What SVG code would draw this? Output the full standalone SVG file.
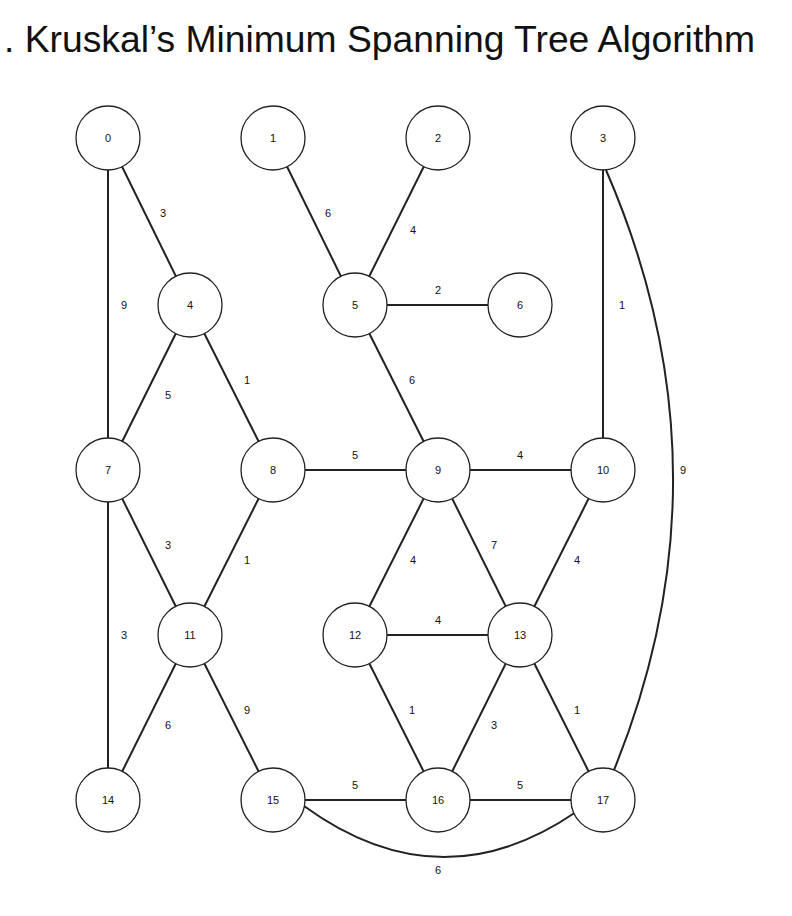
<svg xmlns="http://www.w3.org/2000/svg" width="792" height="916" viewBox="0 0 792 916">
<style>
.n circle{fill:#fff;stroke:#222;stroke-width:1.3}
.n text{font-family:"Liberation Sans",Arial,sans-serif;font-size:11px;fill:#111;text-anchor:middle;dominant-baseline:central}
.e line,.e path{stroke:#222;stroke-width:2;fill:none}
.l{font-family:"Liberation Sans",Arial,sans-serif;font-size:11px;fill:#111;text-anchor:middle;dominant-baseline:central}
</style>
<rect width="792" height="916" fill="#fff"/>
<text x="4" y="52" font-family="Liberation Sans,Arial,sans-serif" font-size="36" textLength="751" lengthAdjust="spacingAndGlyphs" fill="#111">. Kruskal’s Minimum Spanning Tree Algorithm</text>
<g class="e" id="connectors">
<line x1="108" y1="138" x2="190" y2="305"/>
<line x1="108" y1="138" x2="108" y2="470"/>
<line x1="273" y1="138" x2="355" y2="305"/>
<line x1="438" y1="138" x2="355" y2="305"/>
<line x1="355" y1="305" x2="520" y2="305"/>
<line x1="603" y1="138" x2="603" y2="470"/>
<path d="M606 170 Q736 470 614 770"/>
<line x1="190" y1="305" x2="108" y2="470"/>
<line x1="190" y1="305" x2="273" y2="470"/>
<line x1="355" y1="305" x2="438" y2="470"/>
<line x1="108" y1="470" x2="190" y2="635"/>
<line x1="108" y1="470" x2="108" y2="800"/>
<line x1="273" y1="470" x2="438" y2="470"/>
<line x1="273" y1="470" x2="190" y2="635"/>
<line x1="438" y1="470" x2="603" y2="470"/>
<line x1="438" y1="470" x2="355" y2="635"/>
<line x1="438" y1="470" x2="520" y2="635"/>
<line x1="603" y1="470" x2="520" y2="635"/>
<line x1="190" y1="635" x2="108" y2="800"/>
<line x1="190" y1="635" x2="273" y2="800"/>
<line x1="355" y1="635" x2="520" y2="635"/>
<line x1="355" y1="635" x2="438" y2="800"/>
<line x1="520" y1="635" x2="438" y2="800"/>
<line x1="520" y1="635" x2="603" y2="800"/>
<line x1="273" y1="800" x2="438" y2="800"/>
<line x1="438" y1="800" x2="603" y2="800"/>
<path d="M304 806 Q440 905 576 812"/>
</g>
<g id="labels">
<text class="l" x="163" y="213">3</text>
<text class="l" x="124" y="305">9</text>
<text class="l" x="328" y="213">6</text>
<text class="l" x="413" y="230">4</text>
<text class="l" x="438" y="290">2</text>
<text class="l" x="622" y="305">1</text>
<text class="l" x="683" y="470">9</text>
<text class="l" x="168" y="395">5</text>
<text class="l" x="247" y="380">1</text>
<text class="l" x="412" y="380">6</text>
<text class="l" x="168" y="545">3</text>
<text class="l" x="124" y="635">3</text>
<text class="l" x="355" y="455">5</text>
<text class="l" x="247" y="560">1</text>
<text class="l" x="520" y="455">4</text>
<text class="l" x="413" y="560">4</text>
<text class="l" x="494" y="545">7</text>
<text class="l" x="577" y="560">4</text>
<text class="l" x="168" y="725">6</text>
<text class="l" x="247" y="710">9</text>
<text class="l" x="438" y="620">4</text>
<text class="l" x="412" y="710">1</text>
<text class="l" x="494" y="725">3</text>
<text class="l" x="577" y="710">1</text>
<text class="l" x="355" y="785">5</text>
<text class="l" x="520" y="785">5</text>
<text class="l" x="438" y="870">6</text>
</g>
<g class="n" id="node0"><circle cx="108" cy="138" r="32"/><text x="108" y="138">0</text></g>
<g class="n" id="node1"><circle cx="273" cy="138" r="32"/><text x="273" y="138">1</text></g>
<g class="n" id="node2"><circle cx="438" cy="138" r="32"/><text x="438" y="138">2</text></g>
<g class="n" id="node3"><circle cx="603" cy="138" r="32"/><text x="603" y="138">3</text></g>
<g class="n" id="node4"><circle cx="190" cy="305" r="32"/><text x="190" y="305">4</text></g>
<g class="n" id="node5"><circle cx="355" cy="305" r="32"/><text x="355" y="305">5</text></g>
<g class="n" id="node6"><circle cx="520" cy="305" r="32"/><text x="520" y="305">6</text></g>
<g class="n" id="node7"><circle cx="108" cy="470" r="32"/><text x="108" y="470">7</text></g>
<g class="n" id="node8"><circle cx="273" cy="470" r="32"/><text x="273" y="470">8</text></g>
<g class="n" id="node9"><circle cx="438" cy="470" r="32"/><text x="438" y="470">9</text></g>
<g class="n" id="node10"><circle cx="603" cy="470" r="32"/><text x="603" y="470">10</text></g>
<g class="n" id="node11"><circle cx="190" cy="635" r="32"/><text x="190" y="635">11</text></g>
<g class="n" id="node12"><circle cx="355" cy="635" r="32"/><text x="355" y="635">12</text></g>
<g class="n" id="node13"><circle cx="520" cy="635" r="32"/><text x="520" y="635">13</text></g>
<g class="n" id="node14"><circle cx="108" cy="800" r="32"/><text x="108" y="800">14</text></g>
<g class="n" id="node15"><circle cx="273" cy="800" r="32"/><text x="273" y="800">15</text></g>
<g class="n" id="node16"><circle cx="438" cy="800" r="32"/><text x="438" y="800">16</text></g>
<g class="n" id="node17"><circle cx="603" cy="800" r="32"/><text x="603" y="800">17</text></g>
</svg>
